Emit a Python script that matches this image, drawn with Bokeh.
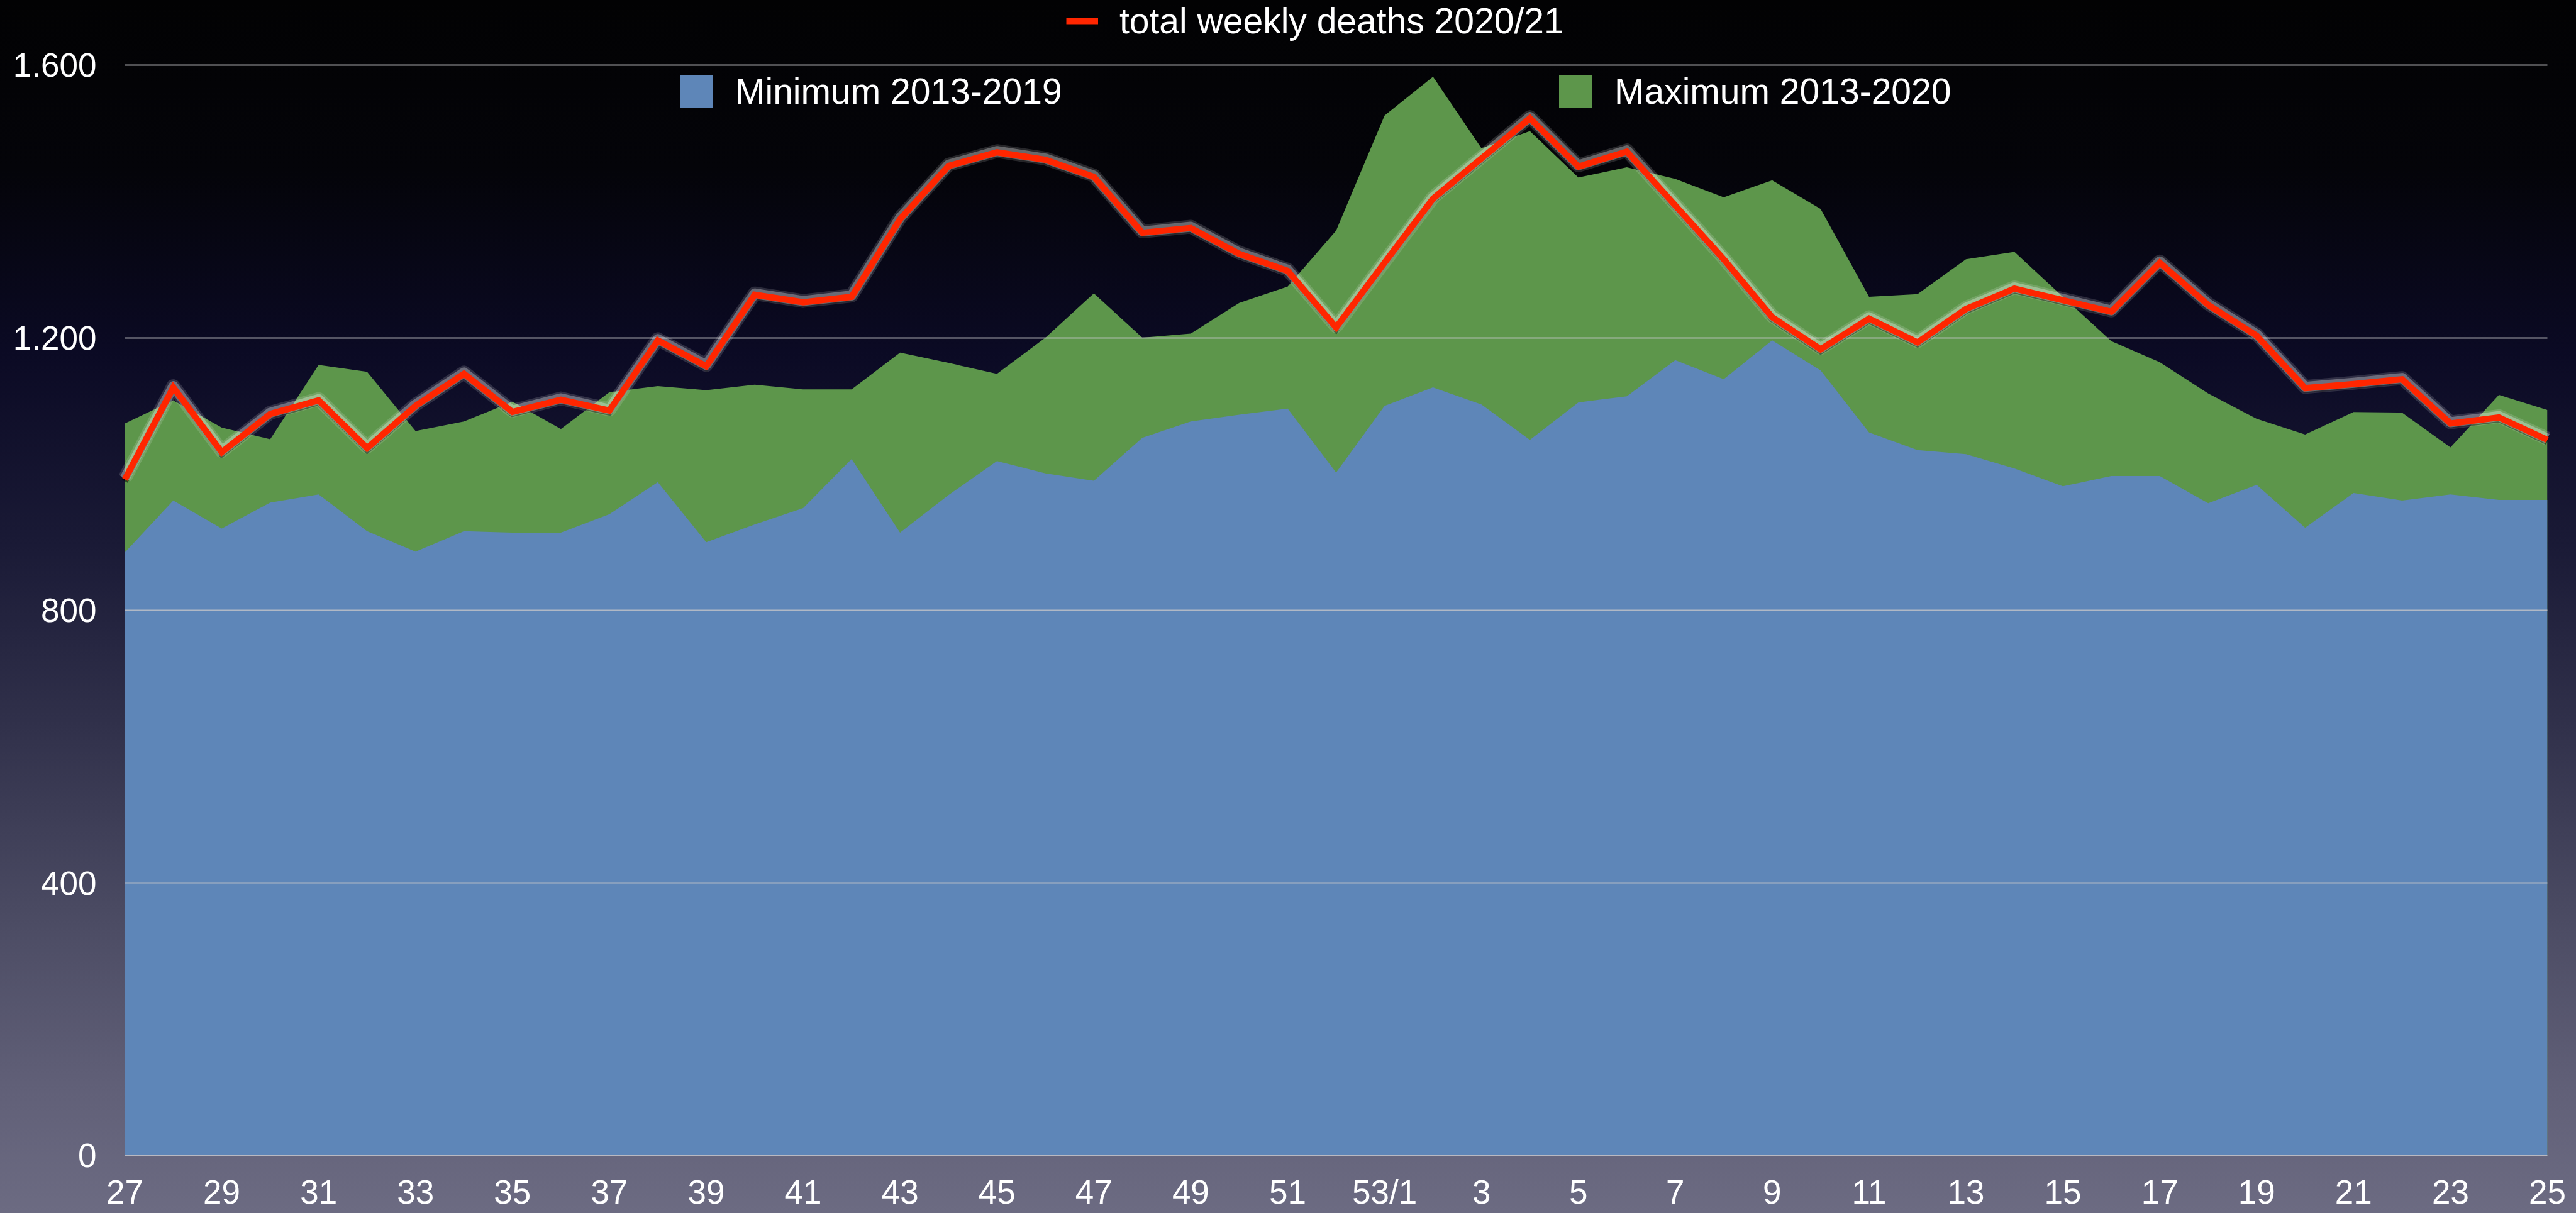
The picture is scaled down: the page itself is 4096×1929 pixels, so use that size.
from bokeh.plotting import figure
from bokeh.models import Range1d, FixedTicker, Legend, LegendItem, ColumnDataSource
from bokeh.embed import file_html
from bokeh.resources import INLINE

# ---------------- data ----------------
weeks = ["27", "28", "29", "30", "31", "32", "33", "34", "35", "36", "37", "38", "39",
         "40", "41", "42", "43", "44", "45", "46", "47", "48", "49", "50", "51", "52",
         "53/1", "2", "3", "4", "5", "6", "7", "8", "9", "10", "11", "12", "13", "14",
         "15", "16", "17", "18", "19", "20", "21", "22", "23", "24", "25"]

min_2013_2019 = [885, 961, 920, 958, 970, 916, 886, 916, 914, 914, 941, 988, 900,
                 926, 950, 1022, 914, 969, 1019, 1001, 990, 1053, 1077, 1087, 1096, 1002,
                 1100, 1127, 1102, 1050, 1105, 1114, 1167, 1139, 1196, 1152, 1061, 1035, 1029, 1008,
                 982, 997, 997, 957, 984, 921, 972, 961, 970, 962, 962]

max_2013_2020 = [1074, 1108, 1068, 1051, 1160, 1150, 1063, 1077, 1106, 1066, 1120, 1129, 1123,
                 1131, 1124, 1124, 1178, 1163, 1147, 1200, 1265, 1200, 1206, 1251, 1275, 1357,
                 1526, 1583, 1478, 1503, 1435, 1450, 1433, 1406, 1431, 1389, 1260, 1264, 1315, 1326,
                 1260, 1195, 1164, 1118, 1081, 1058, 1091, 1090, 1039, 1116, 1094]

deaths_2020_21 = [992, 1127, 1032, 1088, 1108, 1038, 1100, 1147, 1091, 1109, 1093, 1196, 1158,
                  1263, 1252, 1260, 1374, 1452, 1472, 1461, 1436, 1354, 1361, 1323, 1298, 1215,
                  1310, 1404, 1463, 1522, 1451, 1473, 1394, 1315, 1230, 1183, 1228, 1193, 1242, 1272,
                  1255, 1238, 1310, 1248, 1203, 1126, 1132, 1139, 1074, 1083, 1050]

y_ticks = [0, 400, 800, 1200, 1600]
y_tick_labels = ["0", "400", "800", "1.200", "1.600"]

series_labels = ["Minimum 2013-2019", "Maximum 2013-2020", "total weekly deaths 2020/21"]

# ---------------- layout / styling ----------------
W, H = 4096, 1929
FONT = "Liberation Sans"
BLUE = "#5e86b8"
GREEN = "#5d964b"
RED = "#ff2600"

FRAME_LEFT = 198
FRAME_RIGHT_BORDER = 46
FRAME_BOTTOM = 1837          # figure pixel row of value 0
ROW_TOP_TICK = 103           # figure pixel row of the top tick
Y_TOP = y_ticks[-1]
y_end = Y_TOP * FRAME_BOTTOM / (FRAME_BOTTOM - ROW_TOP_TICK)
ppu = FRAME_BOTTOM / y_end

idx = list(range(len(weeks)))
src = ColumnDataSource(dict(x=idx, lo=min_2013_2019, hi=max_2013_2020, red=deaths_2020_21))

p = figure(width=W, height=H, x_range=Range1d(0, len(weeks) - 1), y_range=Range1d(0, y_end),
           output_backend="svg", toolbar_location=None, title=None,
           min_border_left=FRAME_LEFT, min_border_right=FRAME_RIGHT_BORDER, min_border_top=0,
           min_border_bottom=H - FRAME_BOTTOM)
p.extra_y_ranges = {
    "glow": Range1d(-2.0 / ppu, y_end - 2.0 / ppu),
    "shade": Range1d(3.0 / ppu, y_end + 3.0 / ppu),
}

p.background_fill_alpha = 0
p.border_fill_alpha = 0
p.outline_line_color = None
p.styles = {"background": "linear-gradient(to bottom, #020203 0%, #040409 14%, #0b0a24 29%, "
                          "#1a1a36 45%, #31314b 60%, #4a4a62 75%, #616078 90%, #6c6b82 100%)"}

r_hi = p.varea(x="x", y1=0, y2="hi", source=src, fill_color=GREEN, fill_alpha=1)
r_lo = p.varea(x="x", y1=0, y2="lo", source=src, fill_color=BLUE, fill_alpha=1)

g1 = p.line(x="x", y="red", source=src, y_range_name="shade", line_color="black",
            line_alpha=0.5, line_width=10, line_join="miter")
g2 = p.line(x="x", y="red", source=src, y_range_name="glow", line_color="white",
            line_alpha=0.14, line_width=22, line_join="round")
g3 = p.line(x="x", y="red", source=src, y_range_name="glow", line_color="white",
            line_alpha=0.30, line_width=16, line_join="round")
r_red = p.line(x="x", y="red", source=src, line_color=RED, line_width=10, line_join="miter")
for r in (g1, g2, g3, r_red):
    r.level = "annotation"

# axes
p.xaxis.ticker = FixedTicker(ticks=idx[::2])
p.xaxis.major_label_overrides = {i: weeks[i] for i in idx[::2]}
p.xaxis.axis_line_color = "#b9b9c2"
p.xaxis.axis_line_width = 2.5
p.xaxis.major_label_standoff = 28

p.yaxis.ticker = FixedTicker(ticks=y_ticks)
p.yaxis.major_label_overrides = dict(zip(y_ticks, y_tick_labels))
p.yaxis.axis_line_color = None
p.yaxis.major_label_standoff = 45

for ax in (p.xaxis[0], p.yaxis[0]):
    ax.major_tick_line_color = None
    ax.minor_tick_line_color = None
    ax.major_tick_out = 0
    ax.major_tick_in = 0
    ax.minor_tick_out = 0
    ax.minor_tick_in = 0
    ax.major_label_text_font = FONT
    ax.major_label_text_font_size = "53px"
    ax.major_label_text_color = "white"

p.xgrid.visible = False
p.ygrid.ticker = FixedTicker(ticks=y_ticks)
p.ygrid.grid_line_color = "#c4c4c8"
p.ygrid.grid_line_alpha = 0.8
p.ygrid.grid_line_width = 1.8
p.ygrid.level = "guide"

LABEL_H = 69


def make_legend(label, renderer, left, center_row, gw, gh, standoff):
    bottom_row = center_row + LABEL_H / 2.0
    lg = Legend(items=[LegendItem(label=label, renderers=[renderer])],
                location=(round(left - FRAME_LEFT), round(FRAME_BOTTOM - bottom_row)),
                orientation="horizontal", background_fill_alpha=0, border_line_color=None,
                padding=0, margin=0, spacing=0, glyph_width=gw, glyph_height=gh,
                label_height=LABEL_H, label_standoff=standoff, label_text_color="white",
                label_text_font=FONT, label_text_font_size="57px")
    p.add_layout(lg)
    return lg


make_legend(series_labels[0], r_lo, 1074, 145, 65, 66, 30)
make_legend(series_labels[1], r_hi, 2472, 145, 65, 66, 30)
make_legend(series_labels[2], r_red, 1695, 33, 51, 66, 34)

open("out.html", "w").write(file_html(p, INLINE))
